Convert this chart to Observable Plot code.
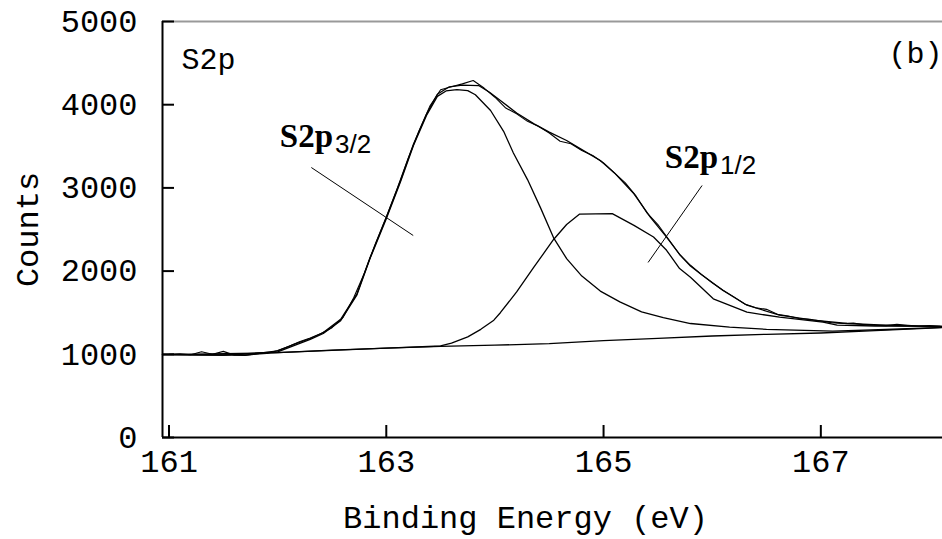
<!DOCTYPE html>
<html><head><meta charset="utf-8">
<script src="https://cdn.jsdelivr.net/npm/d3@7"></script>
<script src="https://cdn.jsdelivr.net/npm/@observablehq/plot@0.6"></script>
<style>body{margin:0;background:#fff}</style>
</head><body><div id="chart"></div>
<script>
// axis setup
const xDomain = [160.94, 168.12];
const yDomain = [0, 5000];
const xTicks = [161, 163, 165, 167];
const yTicks = [0, 1000, 2000, 3000, 4000, 5000];

// raw measured spectrum
const rawEnergy = [161.0,161.1,161.2,161.3,161.4,161.5,161.6,161.7,161.8,161.9,162.0,162.1,162.2,162.3,162.4,162.5,162.6,162.7,162.8,162.9,163.0,163.1,163.2,163.3,163.4,163.5,163.6,163.7,163.8,163.9,164.0,164.1,164.2,164.3,164.4,164.5,164.6,164.7,164.8,164.9,165.0,165.1,165.2,165.3,165.4,165.5,165.6,165.7,165.8,165.9,166.0,166.1,166.2,166.3,166.4,166.5,166.6,166.7,166.8,166.9,167.0,167.1,167.2,167.3,167.4,167.5,167.6,167.7,167.8,167.9,168.0,168.1];
const rawCounts = [1000,1005,995,1030,1000,1035,990,985,1000,1010,1045,1095,1150,1195,1250,1320,1440,1680,1980,2330,2650,2990,3350,3680,3980,4180,4215,4250,4290,4200,4090,3960,3890,3800,3740,3660,3560,3530,3450,3390,3300,3180,3060,2900,2700,2560,2380,2200,2070,1960,1860,1770,1690,1605,1560,1540,1480,1460,1430,1420,1400,1380,1370,1375,1355,1350,1345,1362,1350,1340,1345,1338];

// fitted envelope
const fitEnergy = [160.94,161.3,161.7,162.0,162.15,162.3,162.42,162.58,162.73,162.85,163.0,163.13,163.25,163.37,163.47,163.58,163.7,163.85,163.95,164.05,164.2,164.36,164.5,164.66,164.8,164.97,165.1,165.28,165.43,165.58,165.7,165.8,165.9,166.1,166.32,166.62,166.93,167.24,167.54,167.85,168.12];
const fitCounts = [1000,995,990,1040,1120,1190,1262,1420,1727,2160,2645,3085,3525,3885,4125,4215,4235,4230,4150,4050,3900,3770,3670,3570,3460,3330,3180,2929,2648,2408,2200,2060,1960,1767,1590,1470,1410,1370,1352,1342,1336];

// S2p3/2 component
const p32Energy = [160.94,161.5,162.0,162.15,162.3,162.42,162.58,162.73,162.85,163.0,163.13,163.25,163.37,163.47,163.55,163.65,163.75,163.82,163.96,164.08,164.17,164.3,164.42,164.54,164.66,164.8,164.97,165.15,165.35,165.55,165.8,166.16,166.5,167.11,167.6,168.12];
const p32Counts = [995,990,1030,1105,1180,1250,1405,1715,2150,2630,3070,3510,3870,4100,4165,4180,4170,4120,3930,3680,3420,3100,2760,2400,2150,1940,1760,1630,1510,1440,1370,1326,1300,1278,1298,1325];

// S2p1/2 component
const p12Energy = [160.94,162.0,163.0,163.5,163.6,163.75,163.87,163.99,164.05,164.2,164.36,164.54,164.66,164.78,165.08,165.28,165.46,165.58,165.7,165.8,166.01,166.32,166.62,167.02,167.15,167.5,168.12];
const p12Counts = [995,1020,1075,1100,1134,1210,1300,1410,1500,1750,2050,2380,2560,2685,2690,2550,2410,2250,2030,1927,1667,1506,1446,1386,1350,1340,1336];

// background
const bgEnergy = [160.94,161.5,162.0,162.5,163.0,163.5,164.0,164.5,165.0,165.5,166.0,166.5,167.0,167.5,168.12];
const bgCounts = [995,990,1020,1050,1075,1095,1110,1128,1165,1192,1220,1240,1256,1285,1320];

// annotations
const peakLabels = ["S2p", "S2p"];
const peakSubs = ["3/2", "1/2"];
const labelEnergy = [162.51, 166.054];
const labelCounts = [3486, 3245];
const leaderX1 = [162.31, 165.907];
const leaderY1 = [3245, 3029];
const leaderX2 = [163.248, 165.41];
const leaderY2 = [2428, 2104];

const toPts = (xs, ys) => xs.map((x, i) => ({x, y: ys[i]}));
const raw = toPts(rawEnergy, rawCounts);
const fit = toPts(fitEnergy, fitCounts);
const p32 = toPts(p32Energy, p32Counts);
const p12 = toPts(p12Energy, p12Counts);
const bg = toPts(bgEnergy, bgCounts);
const labels = peakLabels.map((t, i) => ({t, s: peakSubs[i], x: labelEnergy[i], y: labelCounts[i]}));
const leaders = leaderX1.map((x1, i) => ({x1, y1: leaderY1[i], x2: leaderX2[i], y2: leaderY2[i]}));

const mono = "Liberation Mono, Courier New, monospace";
const lineOpts = {x: "x", y: "y", stroke: "black", strokeWidth: 1.3};

const chart = Plot.plot({
  width: 942,
  height: 539,
  marginLeft: 162,
  marginRight: 0,
  marginTop: 21,
  marginBottom: 102,
  style: {fontFamily: mono, background: "white", color: "black"},
  x: {domain: xDomain},
  y: {domain: yDomain},
  marks: [
    Plot.ruleY([yDomain[1]], {stroke: "#999", strokeWidth: 2}),
    Plot.line(bg, lineOpts),
    Plot.line(p32, lineOpts),
    Plot.line(p12, lineOpts),
    Plot.line(fit, lineOpts),
    Plot.line(raw, {...lineOpts, strokeWidth: 1.1}),
    Plot.link(leaders, {x1: "x1", y1: "y1", x2: "x2", y2: "y2", stroke: "black", strokeWidth: 1}),
    Plot.text(labels, {x: "x", y: "y", text: "t", textAnchor: "end", lineAnchor: "bottom", fontFamily: "Liberation Serif, Times New Roman, serif", fontWeight: "bold", fontSize: 33, fill: "black"}),
    Plot.text(labels, {x: "x", y: "y", text: "s", textAnchor: "start", lineAnchor: "bottom", dx: 2, dy: 6, fontFamily: "Liberation Sans, Arial, sans-serif", fontSize: 26, fill: "black"}),
    // inward tick marks
    Plot.ruleX(xTicks, {x: d => d, y1: yDomain[0], y2: yDomain[0], insetTop: -12, stroke: "black", strokeWidth: 2}),
    Plot.ruleY(yTicks, {y: d => d, x1: xDomain[0], x2: xDomain[0], insetRight: -12, stroke: "black", strokeWidth: 2}),
    Plot.axisX(xTicks, {tickSize: 0, tickPadding: 12, tickFormat: d => String(d), fontSize: 32, fontFamily: mono, label: null}),
    Plot.axisY(yTicks, {tickSize: 0, tickPadding: 25, tickFormat: d => String(d), fontSize: 32, fontFamily: mono, label: null}),
    Plot.ruleX([xDomain[0]], {stroke: "black", strokeWidth: 2}),
    Plot.ruleY([yDomain[0]], {stroke: "black", strokeWidth: 2}),
    Plot.text(["S2p"], {frameAnchor: "top-left", dx: 19, dy: 26, textAnchor: "start", lineAnchor: "top", fontSize: 30, fontFamily: mono, fill: "black"}),
    Plot.text(["(b)"], {frameAnchor: "top-right", dx: 0, dy: 32, textAnchor: "end", lineAnchor: "middle", fontSize: 30, fontFamily: mono, fill: "black"}),
    Plot.text(["Counts"], {frameAnchor: "left", dx: -135, rotate: -90, textAnchor: "middle", lineAnchor: "middle", fontSize: 32, fontFamily: mono, fill: "black"}),
    Plot.text(["Binding Energy (eV)"], {frameAnchor: "bottom", dx: -27, dy: 90, textAnchor: "middle", lineAnchor: "bottom", fontSize: 32, fontFamily: mono, fill: "black"})
  ]
});
document.getElementById("chart").appendChild(chart);
</script>
</body></html>
